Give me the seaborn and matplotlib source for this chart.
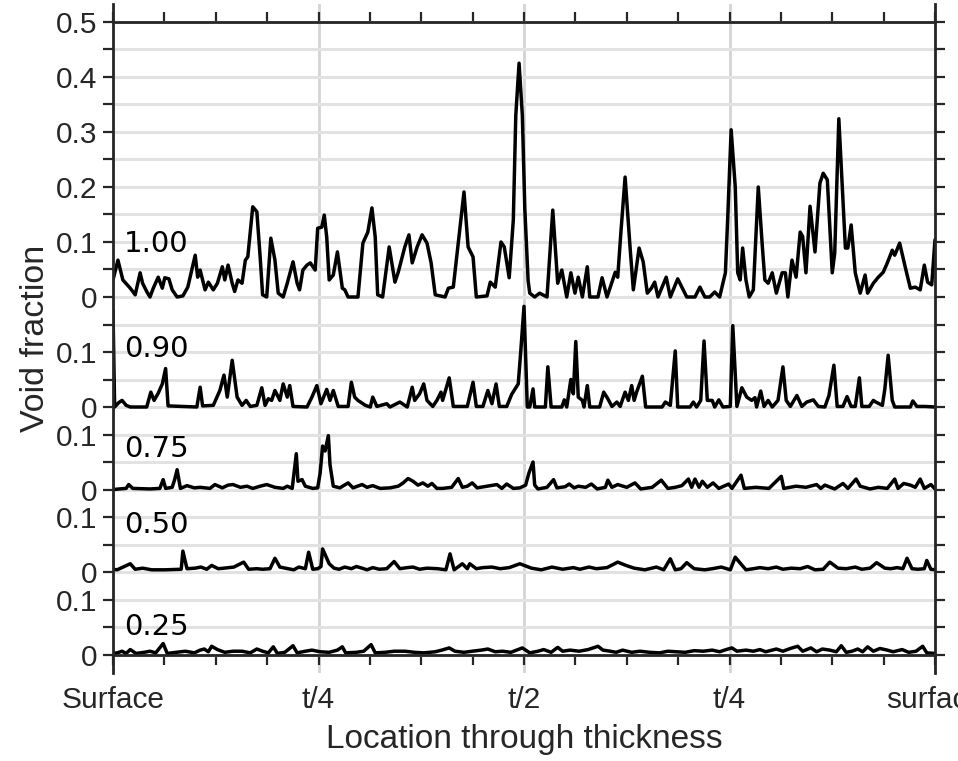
import numpy as np
import pandas as pd
import matplotlib
matplotlib.use("Agg")
import matplotlib.pyplot as plt
import seaborn as sns
from matplotlib.ticker import FixedLocator, MultipleLocator

# ---------------- data (position through thickness in %, void fraction) ----------------
levels = ["1.00", "0.90", "0.75", "0.50", "0.25"]

pos_100 = [0.0,0.6,1.2,2.1,2.7,3.3,3.6,4.1,4.5,4.9,5.5,6.0,6.3,6.8,7.2,7.8,8.5,9.1,10.0,10.3,
           10.6,11.2,11.6,12.2,12.7,13.3,13.6,14.0,14.5,14.8,15.2,15.7,16.1,16.4,17.0,17.5,17.9,18.2,18.7,19.2,
           19.7,20.1,20.7,21.2,21.9,22.4,22.7,23.1,23.6,24.0,24.6,24.9,25.4,25.7,26.0,26.3,26.8,27.3,27.9,28.2,
           28.6,29.8,30.4,31.0,31.5,31.9,32.2,32.8,33.6,34.3,34.7,35.5,36.0,36.4,37.0,37.6,38.2,38.7,39.2,40.4,
           40.8,41.4,42.0,42.7,43.2,43.8,44.2,45.5,45.9,46.5,47.2,47.6,48.2,48.7,49.0,49.4,49.8,50.1,50.5,50.7,
           51.3,51.9,52.8,53.5,54.1,54.6,55.2,55.7,56.2,56.6,57.1,57.7,58.0,59.0,59.5,60.1,61.1,61.4,61.8,62.3,
           62.9,63.3,64.0,64.5,65.0,65.5,65.9,66.3,67.3,67.8,68.7,69.2,69.8,70.8,71.4,72.0,72.6,73.2,73.8,74.5,
           74.8,75.2,75.7,76.0,76.3,76.6,77.0,77.4,77.9,78.5,79.0,79.3,79.7,80.2,80.7,81.4,81.8,82.1,82.6,83.1,
           83.6,83.9,84.3,84.8,85.4,86.0,86.4,86.9,87.5,87.8,88.3,89.1,89.4,89.8,90.3,90.9,91.5,91.8,92.5,93.1,
           93.7,94.2,94.8,95.1,95.7,96.4,97.0,97.6,98.2,98.7,99.1,99.6,100.0]
void_100 = [0.031,0.067,0.031,0.016,0.004,0.044,0.025,0.010,0.000,0.016,0.036,0.016,0.035,0.033,0.013,0.000,0.002,0.018,0.076,0.036,
            0.049,0.013,0.027,0.013,0.025,0.055,0.031,0.058,0.025,0.010,0.031,0.025,0.067,0.073,0.164,0.155,0.073,0.004,0.000,0.107,
            0.067,0.007,0.000,0.025,0.064,0.025,0.013,0.049,0.058,0.062,0.049,0.125,0.127,0.149,0.109,0.031,0.040,0.082,0.016,0.013,
            0.000,0.000,0.098,0.118,0.162,0.109,0.004,0.000,0.091,0.027,0.045,0.091,0.113,0.062,0.091,0.113,0.098,0.062,0.004,0.000,
            0.016,0.018,0.098,0.191,0.091,0.073,0.000,0.002,0.027,0.018,0.100,0.091,0.035,0.140,0.330,0.425,0.330,0.160,0.030,0.007,
            0.000,0.007,0.000,0.158,0.025,0.049,0.000,0.044,0.007,0.036,0.000,0.055,0.000,0.000,0.035,0.000,0.045,0.036,0.120,0.218,
            0.091,0.013,0.089,0.064,0.007,0.016,0.027,0.000,0.036,0.000,0.033,0.018,0.000,0.000,0.018,0.000,0.000,0.009,0.000,0.044,
            0.150,0.304,0.200,0.044,0.031,0.089,0.031,0.000,0.013,0.200,0.091,0.031,0.025,0.044,0.007,0.044,0.044,0.000,0.067,0.036,
            0.118,0.110,0.044,0.165,0.082,0.207,0.225,0.213,0.044,0.080,0.324,0.089,0.089,0.131,0.044,0.007,0.040,0.007,0.025,0.036,
            0.045,0.062,0.085,0.076,0.098,0.053,0.016,0.018,0.013,0.058,0.027,0.022,0.104]

pos_090 = [0.0,0.2,0.7,1.1,1.6,2.1,4.1,4.6,5.0,5.5,6.0,6.4,6.7,10.2,10.6,10.9,12.2,13.0,13.5,13.9,
           14.5,15.1,15.7,16.2,16.7,17.5,18.1,18.5,18.9,19.3,19.7,20.3,20.7,21.2,21.5,21.9,23.6,24.2,24.8,25.3,
           26.0,26.4,26.8,27.4,28.6,29.0,29.4,29.8,30.7,31.3,31.6,32.1,33.3,33.7,34.9,35.8,36.4,36.7,37.3,37.8,
           38.2,38.9,39.4,39.9,40.1,40.9,41.4,43.1,43.8,44.2,45.0,45.6,46.1,46.6,47.0,47.9,48.5,49.3,49.6,50.0,
           50.4,50.7,51.1,51.3,52.6,52.9,53.3,54.6,54.9,55.2,55.7,56.0,56.3,56.6,57.1,57.3,57.7,58.0,59.2,59.7,
           60.2,60.7,61.3,61.7,62.3,62.7,63.1,63.4,63.7,64.4,64.8,66.8,67.2,67.8,68.4,68.7,70.2,70.6,71.0,71.5,
           71.9,72.3,72.9,73.2,73.7,74.2,75.1,75.4,75.9,76.5,77.1,77.7,78.1,78.3,78.8,79.2,79.7,80.2,80.9,81.5,
           81.9,82.4,83.2,83.8,84.4,85.2,85.8,86.6,87.1,87.7,88.1,88.8,89.3,89.8,90.3,90.8,91.1,92.0,92.5,92.8,
           93.6,93.9,94.3,94.8,95.1,97.0,97.3,97.8,98.8,100.0]
void_090 = [0.175,0.000,0.008,0.012,0.003,0.000,0.000,0.027,0.012,0.025,0.042,0.070,0.002,0.000,0.036,0.002,0.003,0.030,0.058,0.018,
            0.085,0.018,0.003,0.012,0.001,0.003,0.035,0.003,0.015,0.012,0.030,0.012,0.042,0.018,0.039,0.001,0.000,0.018,0.039,0.006,
            0.032,0.012,0.030,0.001,0.001,0.045,0.018,0.012,0.003,0.000,0.018,0.001,0.006,0.000,0.009,0.000,0.036,0.012,0.024,0.042,
            0.012,0.001,0.012,0.027,0.012,0.053,0.001,0.001,0.045,0.001,0.001,0.030,0.006,0.042,0.001,0.001,0.023,0.042,0.100,0.183,
            0.000,0.000,0.033,0.000,0.000,0.073,0.000,0.000,0.013,0.000,0.050,0.024,0.119,0.018,0.012,0.000,0.039,0.000,0.000,0.027,
            0.015,0.001,0.009,0.001,0.027,0.012,0.039,0.012,0.027,0.056,0.000,0.000,0.009,0.003,0.102,0.000,0.000,0.009,0.000,0.012,
            0.120,0.012,0.012,0.000,0.013,0.000,0.001,0.148,0.001,0.035,0.018,0.012,0.017,0.000,0.029,0.001,0.012,0.000,0.012,0.073,
            0.012,0.001,0.021,0.001,0.009,0.013,0.001,0.000,0.021,0.076,0.001,0.001,0.019,0.001,0.001,0.053,0.001,0.001,0.012,0.009,
            0.003,0.033,0.094,0.012,0.000,0.000,0.011,0.001,0.001,0.000]

pos_075 = [0.0,1.6,1.9,2.4,4.5,5.7,6.1,6.4,7.2,7.5,7.8,8.2,9.0,9.9,10.6,11.8,12.4,13.3,14.0,14.6,
           15.5,16.3,17.0,17.9,18.7,19.7,20.7,21.2,21.8,22.3,22.5,23.0,23.4,24.3,24.9,25.2,25.5,25.8,26.2,26.4,
           26.8,27.6,28.6,29.2,30.3,30.9,31.6,32.5,33.7,34.7,35.3,35.9,36.5,37.1,37.7,38.3,38.8,39.4,40.1,41.2,
           42.0,42.5,43.1,43.7,44.3,45.5,46.7,47.3,47.9,48.7,49.5,50.2,50.6,51.1,51.3,51.7,52.8,53.6,54.0,55.0,
           55.5,56.1,56.6,57.5,58.2,58.9,59.9,60.2,60.7,61.4,62.5,63.5,64.2,65.6,66.7,67.5,68.4,69.2,70.0,70.4,
           70.8,71.3,71.7,72.3,73.0,73.7,74.9,75.3,76.4,76.8,78.2,79.8,81.3,81.6,83.1,84.3,85.6,86.1,86.6,87.8,
           88.8,89.4,90.4,90.9,92.1,93.1,94.2,95.1,95.5,96.2,97.0,97.6,98.2,98.7,99.5,100.0]
void_075 = [0.000,0.002,0.009,0.002,0.001,0.002,0.018,0.002,0.004,0.018,0.036,0.002,0.007,0.003,0.004,0.002,0.009,0.003,0.008,0.009,
            0.004,0.006,0.002,0.006,0.009,0.004,0.002,0.006,0.002,0.065,0.015,0.018,0.006,0.002,0.003,0.030,0.079,0.070,0.098,0.045,
            0.006,0.003,0.012,0.003,0.009,0.004,0.007,0.002,0.003,0.006,0.012,0.020,0.015,0.008,0.012,0.006,0.011,0.002,0.002,0.004,
            0.020,0.004,0.006,0.012,0.003,0.006,0.009,0.002,0.010,0.002,0.003,0.008,0.030,0.050,0.008,0.001,0.004,0.018,0.003,0.005,
            0.010,0.003,0.006,0.004,0.010,0.001,0.004,0.017,0.004,0.009,0.004,0.012,0.001,0.004,0.017,0.002,0.004,0.007,0.019,0.004,
            0.019,0.004,0.015,0.004,0.012,0.002,0.010,0.002,0.026,0.002,0.004,0.002,0.024,0.002,0.006,0.004,0.009,0.002,0.008,0.001,
            0.011,0.002,0.019,0.006,0.001,0.004,0.002,0.019,0.002,0.011,0.008,0.004,0.019,0.002,0.009,0.001]

pos_050 = [0.0,0.5,2.1,2.7,3.6,4.7,6.3,8.3,8.5,9.0,10.0,10.7,11.4,12.0,12.8,13.5,14.7,15.9,16.5,17.5,
           18.2,19.1,19.7,20.3,21.3,22.0,22.6,23.4,23.8,24.3,24.9,25.3,25.5,26.3,26.9,27.5,28.2,29.0,29.6,30.3,
           30.9,31.6,32.4,33.3,34.2,34.9,35.8,36.5,37.3,38.2,39.5,40.5,41.0,41.5,42.5,43.1,43.4,44.2,45.0,46.1,
           47.1,48.2,49.5,50.9,52.1,53.4,54.7,56.0,56.8,57.9,58.8,60.1,61.4,62.4,63.4,64.7,66.1,67.0,67.8,68.4,
           69.1,69.8,70.7,72.0,72.9,74.0,75.1,75.7,76.2,77.0,77.9,78.7,79.7,80.7,81.5,82.5,83.6,84.5,85.4,86.4,
           87.2,88.2,89.2,90.3,91.1,92.1,92.9,93.9,94.6,95.4,96.1,96.6,97.2,97.9,98.7,99.0,99.5,100.0]
void_050 = [0.005,0.004,0.015,0.005,0.007,0.004,0.004,0.005,0.038,0.006,0.007,0.009,0.005,0.012,0.006,0.007,0.009,0.018,0.005,0.006,
            0.005,0.006,0.025,0.009,0.006,0.004,0.009,0.006,0.036,0.005,0.006,0.010,0.042,0.015,0.007,0.005,0.009,0.006,0.010,0.007,
            0.004,0.008,0.005,0.006,0.019,0.006,0.008,0.009,0.005,0.007,0.006,0.004,0.033,0.004,0.015,0.006,0.015,0.006,0.008,0.009,
            0.006,0.008,0.015,0.007,0.004,0.009,0.005,0.008,0.005,0.009,0.006,0.008,0.018,0.012,0.007,0.004,0.009,0.004,0.024,0.004,
            0.006,0.017,0.006,0.004,0.006,0.009,0.004,0.027,0.018,0.004,0.006,0.008,0.006,0.009,0.005,0.007,0.006,0.010,0.004,0.005,
            0.018,0.007,0.006,0.009,0.005,0.007,0.017,0.007,0.006,0.008,0.006,0.025,0.006,0.005,0.006,0.021,0.005,0.004]

pos_025 = [0.0,0.5,1.1,1.6,2.1,2.8,3.8,4.5,5.2,6.1,6.6,7.7,8.8,9.9,10.6,11.1,11.6,12.0,12.7,13.6,
           14.6,15.7,16.7,17.5,18.2,18.9,19.5,20.0,20.9,21.9,22.4,23.4,24.2,25.2,26.3,27.3,27.9,28.3,29.6,30.5,
           31.4,31.9,33.1,34.2,35.5,36.7,37.8,39.2,40.0,40.9,41.6,42.7,43.7,44.8,45.6,46.5,47.4,48.4,49.1,49.8,
           50.7,51.7,52.4,53.3,54.1,54.7,55.6,56.7,57.8,59.0,59.6,60.5,61.2,62.0,63.1,64.1,65.3,66.5,67.5,68.5,
           69.6,70.7,71.8,72.9,73.8,74.6,75.3,75.9,77.0,77.9,78.7,79.4,80.7,81.5,82.4,83.3,83.9,84.9,85.6,86.3,
           87.2,88.0,88.6,89.2,89.9,90.6,91.2,91.8,92.5,93.3,94.2,94.9,96.0,96.8,97.7,98.5,99.0,100.0]
void_025 = [0.002,0.003,0.006,0.002,0.009,0.002,0.004,0.006,0.003,0.020,0.002,0.004,0.006,0.003,0.008,0.010,0.005,0.015,0.009,0.004,
            0.006,0.006,0.003,0.010,0.006,0.003,0.014,0.002,0.004,0.016,0.003,0.006,0.008,0.005,0.004,0.008,0.014,0.003,0.004,0.006,
            0.018,0.003,0.004,0.006,0.006,0.004,0.003,0.005,0.008,0.012,0.006,0.004,0.006,0.008,0.010,0.005,0.006,0.004,0.008,0.012,
            0.003,0.006,0.009,0.004,0.013,0.006,0.008,0.006,0.009,0.015,0.008,0.006,0.004,0.008,0.004,0.006,0.004,0.003,0.006,0.005,
            0.004,0.007,0.006,0.008,0.005,0.009,0.012,0.006,0.008,0.006,0.009,0.005,0.010,0.006,0.011,0.015,0.006,0.012,0.005,0.010,
            0.008,0.005,0.016,0.004,0.006,0.010,0.005,0.014,0.006,0.011,0.008,0.005,0.009,0.004,0.006,0.015,0.003,0.002]

xtick_values = [0, 25, 50, 75, 100]
xtick_labels = ["Surface", "t/4", "t/2", "t/4", "surface"]
ytick_values = [0.5, 0.45, 0.4, 0.35, 0.3, 0.25, 0.2, 0.15, 0.1, 0.05, 0.0,
                -0.05, -0.1, -0.15, -0.2, -0.25, -0.3, -0.35, -0.4, -0.45,
                -0.5, -0.55, -0.6, -0.65]
ytick_labels = ["0.5", "", "0.4", "", "0.3", "", "0.2", "", "0.1", "", "0",
                "", "0.1", "", "0", "0.1", "", "0", "0.1", "",
                "0", "0.1", "", "0"]

# ---------------- layout / style ----------------
offsets = [0.0, -0.20, -0.35, -0.50, -0.65]        # vertical stacking of the traces
label_y = [0.082, -0.109, -0.291, -0.429, -0.615]  # baseline of the in-plot labels
INK = "#262626"

sns.set_style("white")
plt.rcParams["font.family"] = ["Liberation Sans", "DejaVu Sans"]

positions = [pos_100, pos_090, pos_075, pos_050, pos_025]
voids = [void_100, void_090, void_075, void_050, void_025]
frames = []
for lev, p, v, off in zip(levels, positions, voids, offsets):
    frames.append(pd.DataFrame({"position": p, "void": v, "level": lev, "offset": off}))
df = pd.concat(frames, ignore_index=True)
df["shifted"] = df["void"] + df["offset"]

fig = plt.figure(figsize=(9.58, 7.61), dpi=100)
ax = fig.add_axes([113 / 958, 88 / 761, 822 / 958, 669 / 761])

for lev in levels:
    sns.lineplot(data=df[df["level"] == lev], x="position", y="shifted",
                 color="black", linewidth=2.5, estimator=None, sort=False,
                 ax=ax, legend=False)

ax.set_xlim(0, 100)
ax.set_ylim(-0.6836, 0.5327)

# spines
for s in ["left", "right", "top", "bottom"]:
    ax.spines[s].set_visible(True)
    ax.spines[s].set_color(INK)
    ax.spines[s].set_linewidth(2.0)
ax.spines["top"].set_position(("data", 0.5))
ax.spines["bottom"].set_position(("data", -0.65))

# ticks
ax.xaxis.set_major_locator(FixedLocator(xtick_values))
ax.set_xticklabels(xtick_labels)
ax.xaxis.set_minor_locator(MultipleLocator(6.25))
ax.yaxis.set_major_locator(FixedLocator(ytick_values))
ax.set_yticklabels(ytick_labels)
ax.tick_params(axis="x", which="both", bottom=True, top=True, labeltop=False,
               direction="out", length=7, width=1.6, color=INK,
               labelsize=21.5, labelcolor=INK, pad=16)
ax.tick_params(axis="y", which="both", left=True, right=True, labelright=False,
               direction="out", length=7, width=1.6, color=INK,
               labelsize=21.5, labelcolor=INK, pad=4)

# grid
ax.grid(False)
ax.yaxis.grid(True, which="major", color="#e2e2e2", linewidth=2.2)
ax.xaxis.grid(True, which="major", color="#d4d4d4", linewidth=2.0)
ax.set_axisbelow(True)

# in-plot labels
for lev, ly in zip(levels, label_y):
    ax.text(1.3, ly, lev, fontsize=21, family="DejaVu Sans", color="black",
            va="baseline", ha="left", zorder=5)

ax.set_xlabel("Location through thickness", fontsize=24, color=INK, labelpad=7)
ax.set_ylabel("Void fraction", fontsize=24.5, color=INK, labelpad=4)

fig.savefig("out.png", dpi=100)
